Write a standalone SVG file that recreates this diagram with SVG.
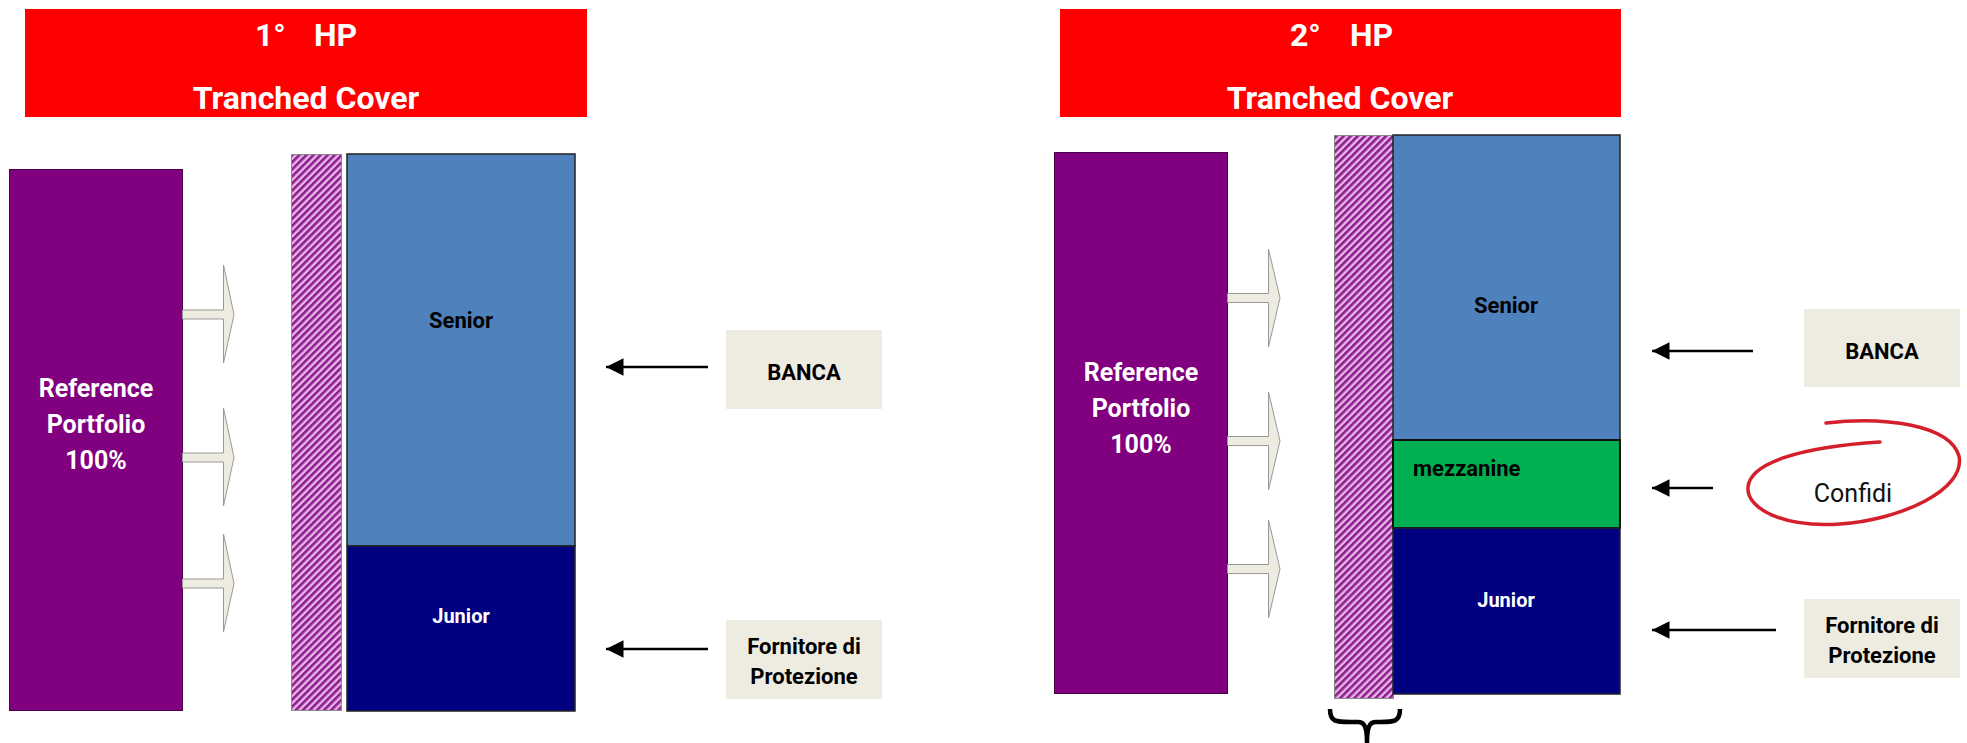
<svg xmlns="http://www.w3.org/2000/svg" width="1967" height="743" viewBox="0 0 1967 743">
<style>
.t{font-family:Roboto,"Liberation Sans",sans-serif;font-weight:bold;}
.title{fill:#fff;font-size:32px;}
.pf{fill:#fff;font-size:25px;}
.lab{fill:#000;font-size:22px;}
.jun{fill:#fff;font-size:20px;}
.src{fill:#000;font-size:22px;}
.red{fill:#FF0000;}
.purple{fill:#800080;stroke:#4a004a;stroke-width:1;}
.hatch{fill:url(#hp);stroke:#888;stroke-width:1;}
.senior{fill:#4F81BD;stroke:#222;stroke-width:1.5;}
.junior{fill:#000080;stroke:#222;stroke-width:1.5;}
.mezz{fill:#00B050;stroke:#111;stroke-width:2;}
.beige{fill:#EEECE1;}
.barrow{fill:#EEECE1;stroke:#999;stroke-width:1;}
.conn{stroke:#000;stroke-width:2.5;fill:none;marker-end:url(#ah);}
</style>
<defs>
<pattern id="hp" width="5" height="5" patternUnits="userSpaceOnUse" patternTransform="rotate(45)">
<rect width="5" height="5" fill="#E6B8E6"/>
<rect width="2.6" height="5" fill="#8E1C8E"/>
</pattern>
<marker id="ah" markerWidth="7" markerHeight="7" viewBox="0 0 10 10" refX="10" refY="5" orient="auto" markerUnits="strokeWidth">
<path d="M0,0 L10,5 L0,10 z" fill="#000"/>
</marker>
</defs>
<rect width="1967" height="743" fill="#fff"/>

<g id="title-left">
<rect class="red" x="25" y="9" width="562" height="108"/>
<text class="t title" x="255" y="46">1°</text>
<text class="t title" x="314" y="46">HP</text>
<text class="t title" x="306" y="109" text-anchor="middle">Tranched Cover</text>
</g>
<g id="title-right">
<rect class="red" x="1060" y="9" width="561" height="108"/>
<text class="t title" x="1290" y="46">2°</text>
<text class="t title" x="1350" y="46">HP</text>
<text class="t title" x="1340" y="109" text-anchor="middle">Tranched Cover</text>
</g>

<g id="portfolio-left">
<rect class="purple" x="9.5" y="169.5" width="173" height="541"/>
<text class="t pf" x="96" y="397" text-anchor="middle">Reference</text>
<text class="t pf" x="96" y="433" text-anchor="middle">Portfolio</text>
<text class="t pf" x="96" y="469" text-anchor="middle">100%</text>
</g>
<g id="portfolio-right">
<rect class="purple" x="1054.5" y="152.5" width="173" height="541"/>
<text class="t pf" x="1141" y="381" text-anchor="middle">Reference</text>
<text class="t pf" x="1141" y="417" text-anchor="middle">Portfolio</text>
<text class="t pf" x="1141" y="453" text-anchor="middle">100%</text>
</g>

<g id="hatch-left"><rect class="hatch" x="291.5" y="154.5" width="50" height="556"/></g>
<g id="hatch-right"><rect class="hatch" x="1334.5" y="135.5" width="59" height="563"/></g>

<g id="senior-left">
<rect class="senior" x="347" y="154" width="228" height="392"/>
<text class="t lab" x="461" y="328" text-anchor="middle">Senior</text>
</g>
<g id="junior-left">
<rect class="junior" x="347" y="546" width="228" height="165"/>
<text class="t jun" x="461" y="623" text-anchor="middle">Junior</text>
</g>
<g id="senior-right">
<rect class="senior" x="1393" y="135" width="227" height="305"/>
<text class="t lab" x="1506" y="313" text-anchor="middle">Senior</text>
</g>
<g id="mezzanine-right">
<rect class="mezz" x="1393" y="440" width="227" height="88"/>
<text class="t lab" x="1413" y="476">mezzanine</text>
</g>
<g id="junior-right">
<rect class="junior" x="1393" y="528" width="227" height="166"/>
<text class="t jun" x="1506" y="607" text-anchor="middle">Junior</text>
</g>

<g id="banca-left">
<rect class="beige" x="726" y="330" width="156" height="79"/>
<text class="t src" x="804" y="380" text-anchor="middle">BANCA</text>
</g>
<g id="fornitore-left">
<rect class="beige" x="726" y="620" width="156" height="79"/>
<text class="t src" x="804" y="654" text-anchor="middle">Fornitore di</text>
<text class="t src" x="804" y="684" text-anchor="middle">Protezione</text>
</g>
<g id="banca-right">
<rect class="beige" x="1804" y="309" width="156" height="78"/>
<text class="t src" x="1882" y="359" text-anchor="middle">BANCA</text>
</g>
<g id="confidi-right">
<path d="M1826 423 C1885 416 1950 425 1959 456 C1966 490 1900 520 1840 524 C1782 528 1746 508 1748 487 C1750 463 1800 447 1880 442" fill="none" stroke="#D4202A" stroke-width="3.5" stroke-linecap="round"/>
<text x="1853" y="502" text-anchor="middle" font-family="Roboto,'Liberation Sans',sans-serif" font-size="25" fill="#111">Confidi</text>
</g>
<g id="fornitore-right">
<rect class="beige" x="1804" y="599" width="156" height="79"/>
<text class="t src" x="1882" y="633" text-anchor="middle">Fornitore di</text>
<text class="t src" x="1882" y="663" text-anchor="middle">Protezione</text>
</g>

<g id="brace">
<path d="M1330 709 C1330 722 1336 722 1350 722 L1358 722 C1364 722 1367 726 1367 743 M1400 709 C1400 722 1394 722 1380 722 L1376 722 C1370 722 1367 726 1367 743" fill="none" stroke="#000" stroke-width="4.5"/>
</g>

<g id="connectors">
<path class="barrow" d="M182.5 310 L223.5 310 L223.5 265 L234 314.5 L223.5 363 L223.5 319 L182.5 319 Z"/>
<path class="barrow" d="M182.5 453 L223.5 453 L223.5 408 L234 457.5 L223.5 506 L223.5 462 L182.5 462 Z"/>
<path class="barrow" d="M182.5 579 L223.5 579 L223.5 534 L234 583.5 L223.5 632 L223.5 588 L182.5 588 Z"/>
<path class="barrow" d="M1227.5 293.5 L1268.5 293.5 L1268.5 249 L1280 298 L1268.5 347 L1268.5 302.5 L1227.5 302.5 Z"/>
<path class="barrow" d="M1227.5 436.5 L1268.5 436.5 L1268.5 392 L1280 441 L1268.5 490 L1268.5 445.5 L1227.5 445.5 Z"/>
<path class="barrow" d="M1227.5 564.5 L1268.5 564.5 L1268.5 520 L1280 569 L1268.5 618 L1268.5 573.5 L1227.5 573.5 Z"/>
<line class="conn" x1="708" y1="367" x2="606" y2="367"/>
<line class="conn" x1="708" y1="649" x2="606" y2="649"/>
<line class="conn" x1="1753" y1="351" x2="1652" y2="351"/>
<line class="conn" x1="1713" y1="488" x2="1652" y2="488"/>
<line class="conn" x1="1776" y1="630" x2="1652" y2="630"/>
</g>
</svg>
